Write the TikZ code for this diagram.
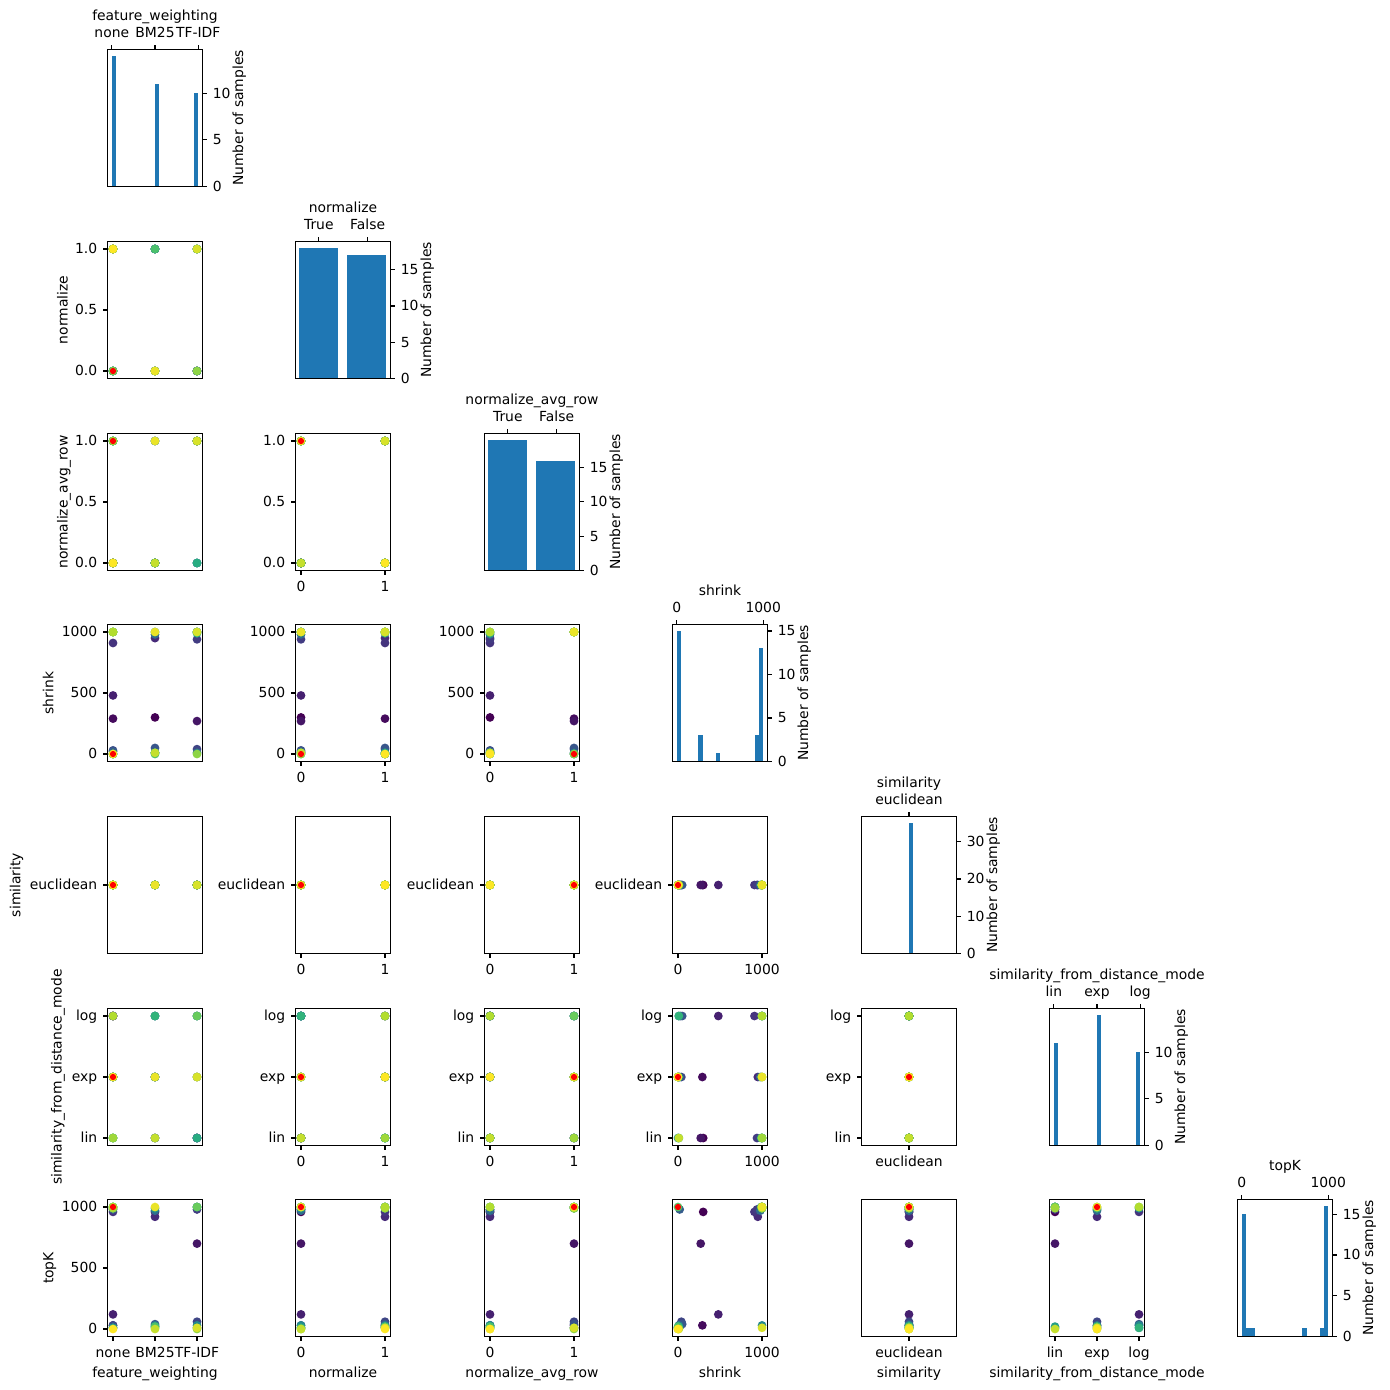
\documentclass[tikz,border=0pt]{standalone}
\usepackage{fontspec}
\setmainfont{DejaVu Sans}
\definecolor{vir0}{HTML}{440154}
\definecolor{vir1}{HTML}{472D7B}
\definecolor{vir2}{HTML}{3B528B}
\definecolor{vir3}{HTML}{2C728E}
\definecolor{vir4}{HTML}{21918C}
\definecolor{vir5}{HTML}{28AE80}
\definecolor{vir6}{HTML}{5EC962}
\definecolor{vir7}{HTML}{ADDC30}
\definecolor{vir8}{HTML}{FDE725}
\definecolor{barre}{HTML}{1F77B4}
\tikzset{
  cadre/.style={line width=0.8pt},
  tic/.style={line width=0.8pt},
  ytl/.style={anchor=base east,inner sep=0pt,xshift=-3.5pt,yshift=-3.5pt},
  ytr/.style={anchor=base west,inner sep=0pt,xshift=3.5pt,yshift=-3.5pt},
  xtb/.style={anchor=base,inner sep=0pt,yshift=-11.26pt},
  xth/.style={anchor=base,inner sep=0pt,yshift=5.14pt},
  nom/.style={anchor=base,inner sep=0pt},
  nomv/.style={anchor=base,inner sep=0pt,rotate=90}
}
\begin{document}
\begin{tikzpicture}[x=0.72pt,y=-0.72pt,font=\fontsize{10}{12}\selectfont,
  declare function={xg(\c)=floor(107.3+\c*188.45)+0.5; yh(\l)=floor(49.8+\l*191.67)+0.5;}]
  \useasboundingbox (0,0) rectangle (1390,1389);
  \pgfmathsetmacro{\larg}{95}
  \pgfmathsetmacro{\hautp}{137}
  \pgfmathsetmacro{\mx}{5.5}
  \pgfmathsetmacro{\my}{7.5}
  \foreach \idx/\fw/\nm/\av/\sh/\md/\tk in {0/1/0/0/300/0/960,1/0/1/1/290/1/30,2/2/0/1/270/0/700,3/0/0/0/480/2/120,4/1/1/0/950/1/920,5/0/1/0/910/2/960,6/2/0/0/940/0/980,7/2/1/1/40/1/60,8/0/0/0/30/2/30,9/1/1/1/50/2/40,10/0/0/0/20/1/980,11/2/1/1/1000/0/1000,12/1/0/0/980/1/970,13/2/0/1/10/2/10,14/1/1/0/10/1/30,15/0/1/1/0/1/10,16/2/0/0/1000/2/30,17/1/0/1/1000/2/990,18/0/1/0/0/0/10,19/1/1/0/10/0/20,20/0/0/1/1000/0/1000,21/2/1/0/990/0/1000,22/1/0/0/10/2/10,23/0/1/1/1000/1/990,24/1/1/0/0/1/20,25/0/0/1/0/1/1000,26/2/1/1/1000/2/1000,27/0/0/0/1000/0/1000,28/2/0/1/0/1/0,29/0/1/1/1000/0/990,30/0/1/0/1000/2/1000,31/1/0/0/10/0/0,32/2/1/1/1000/1/10,33/1/0/1/1000/1/1000,34/0/1/0/0/1/0}{
    \pgfmathtruncatemacro{\seg}{min(7,floor(\idx*8/34))}
    \pgfmathtruncatemacro{\segb}{\seg+1}
    \pgfmathtruncatemacro{\pc}{round(100-100*(\idx*8/34-\seg))}
    \colorlet{coul}{vir\seg!\pc!vir\segb}
    \pgfmathsetmacro{\fa}{\fw/2}
    \pgfmathsetmacro{\fd}{\sh/1000}
    \pgfmathsetmacro{\ff}{\md/2}
    \pgfmathsetmacro{\fg}{\tk/1000}
    \foreach \lig in {1,...,6}{
      \pgfmathtruncatemacro{\cmax}{\lig-1}
      \foreach \col in {0,...,\cmax}{
        \pgfmathsetmacro{\fx}{{\fa,\nm,\av,\fd,0.5,\ff,\fg}[\col]}
        \pgfmathsetmacro{\fy}{{\fa,\nm,\av,\fd,0.5,\ff,\fg}[\lig]}
        \pgfmathsetmacro{\px}{xg(\col)+\mx+\fx*(\larg-2*\mx)}
        \pgfmathsetmacro{\py}{yh(\lig)+\hautp-\my-\fy*(\hautp-2*\my)}
        \fill[coul] (\px,\py) circle (3.16pt);
      }}}
  \foreach \lig in {1,...,6}{
    \pgfmathtruncatemacro{\cmax}{\lig-1}
    \foreach \col in {0,...,\cmax}{
      \pgfmathsetmacro{\fx}{{0,0,1,0,0.5,0.5,1}[\col]}
      \pgfmathsetmacro{\fy}{{0,0,1,0,0.5,0.5,1}[\lig]}
      \pgfmathsetmacro{\px}{xg(\col)+\mx+\fx*(\larg-2*\mx)}
      \pgfmathsetmacro{\py}{yh(\lig)+\hautp-\my-\fy*(\hautp-2*\my)}
      \fill[red] (\px,\py) circle (2.24pt);
    }}
  \foreach \dd/\ymax/\barres in {0/14/{0/14,10/11,19/10},3/15/{0/15,5/3,9/1,18/3,19/13},4/35/{10/35},5/14/{0/11,10/14,19/10},6/16/{0/15,1/1,2/1,14/1,18/1,19/16}}{
    \foreach \kb/\hh in \barres{
      \pgfmathsetmacro{\xa}{xg(\dd)+\larg*(\kb/20+0.05)/1.1}
      \pgfmathsetmacro{\xb}{xg(\dd)+\larg*((\kb+1)/20+0.05)/1.1}
      \pgfmathsetmacro{\yb}{yh(\dd)+\hautp}
      \pgfmathsetmacro{\ya}{\yb-\hautp*\hh/(1.05*\ymax)}
      \fill[barre] (\xa,\ya) rectangle (\xb,\yb);
    }}
  \foreach \dd/\ymax/\barres in {1/18/{-0.01/0.44/18,0.55/1.0/17},2/19/{-0.01/0.44/19,0.55/1.0/16}}{
    \foreach \ua/\ub/\hh in \barres{
      \pgfmathsetmacro{\xa}{xg(\dd)+\larg*(\ua+0.05)/1.1}
      \pgfmathsetmacro{\xb}{xg(\dd)+\larg*(\ub+0.05)/1.1}
      \pgfmathsetmacro{\yb}{yh(\dd)+\hautp}
      \pgfmathsetmacro{\ya}{\yb-\hautp*\hh/(1.05*\ymax)}
      \fill[barre] (\xa,\ya) rectangle (\xb,\yb);
    }}
  \foreach \lig in {0,...,6}{
    \foreach \col in {0,...,\lig}{
      \draw[cadre] ({xg(\col)},{yh(\lig)}) rectangle ++(\larg,\hautp);
    }}
  \foreach \lig/\cmax/\liste in {1/0/{0/0.0,0.5/0.5,1/1.0},2/1/{0/0.0,0.5/0.5,1/1.0},3/2/{0/0,0.5/500,1/1000},4/3/{0.5/euclidean},5/4/{0/lin,0.5/exp,1/log},6/0/{0/0,0.5/500,1/1000}}{
    \foreach \col in {0,...,\cmax}{
      \foreach \f/\txt [count=\n] in \liste{
        \pgfmathsetmacro{\px}{xg(\col)}
        \pgfmathsetmacro{\py}{yh(\lig)+\hautp-\my-\f*(\hautp-2*\my)}
        \draw[tic] (\px,\py) -- ++(-3.5pt,0) node[ytl] (yt-\lig-\col-\n) {\txt};
      }}}
  \foreach \col/\lmin/\liste in {0/6/{0/none,0.5/BM25,1/TF-IDF},1/2/{0/0,1/1},2/3/{0/0,1/1},3/4/{0/0,1/1000},4/5/{0.5/euclidean},5/6/{0/lin,0.5/exp,1/log}}{
    \foreach \lig in {\lmin,...,6}{
      \foreach \f/\txt [count=\n] in \liste{
        \pgfmathsetmacro{\px}{xg(\col)+\mx+\f*(\larg-2*\mx)}
        \pgfmathsetmacro{\py}{yh(\lig)+\hautp}
        \draw[tic] (\px,\py) -- ++(0,-3.5pt) node[xtb] (xt-\lig-\col-\n) {\txt};
      }}}
  \foreach \dd/\ymax/\liste in {0/14/{0,5,10},1/18/{0,5,10,15},2/19/{0,5,10,15},3/15/{0,5,10,15},4/35/{0,10,20,30},5/14/{0,5,10},6/16/{0,5,10,15}}{
    \foreach \val [count=\n] in \liste{
      \pgfmathsetmacro{\px}{xg(\dd)+\larg}
      \pgfmathsetmacro{\py}{yh(\dd)+\hautp-\hautp*\val/(1.05*\ymax)}
      \draw[tic] (\px,\py) -- ++(3.5pt,0) node[ytr] (hy-\dd-\n) {\val};
    }
    \node[nomv] (ns-\dd) at ({xg(\dd)+\larg+40.7},{yh(\dd)+\hautp/2}) {Number of samples};
  }
  \foreach \dd/\txt/\liste in {0/feature\_weighting/{0/none,0.5/BM25,1/TF-IDF},1/normalize/{0.22/True,0.785/False},2/normalize\_avg\_row/{0.22/True,0.785/False},3/shrink/{0/0,1/1000},4/similarity/{0.5/euclidean},5/similarity\_from\_distance\_mode/{0/lin,0.5/exp,1/log},6/topK/{0/0,1/1000}}{
    \foreach \f/\et [count=\n] in \liste{
      \pgfmathsetmacro{\px}{xg(\dd)+\larg*(\f+0.05)/1.1}
      \pgfmathsetmacro{\py}{yh(\dd)}
      \draw[tic] (\px,\py) -- ++(0,3.5pt) node[xth] (hx-\dd-\n) {\et};
    }
    \node[nom] (nh-\dd) at ({xg(\dd)+\larg/2},{yh(\dd)-28.7}) {\txt};
  }
  \foreach \lig/\xb/\txt in {1/67.5/normalize,2/67.5/normalize\_avg\_row,3/53.3/shrink,4/20.3/similarity,5/61.5/similarity\_from\_distance\_mode,6/53.3/topK}
    \node[nomv] (ny-\lig) at (\xb,{yh(\lig)+\hautp/2}) {\txt};
  \foreach \col/\txt in {0/feature\_weighting,1/normalize,2/normalize\_avg\_row,3/shrink,4/similarity,5/similarity\_from\_distance\_mode}
    \node[nom] (nx-\col) at ({xg(\col)+\larg/2},{yh(6)+\hautp+40.5}) {\txt};
\end{tikzpicture}
\end{document}
